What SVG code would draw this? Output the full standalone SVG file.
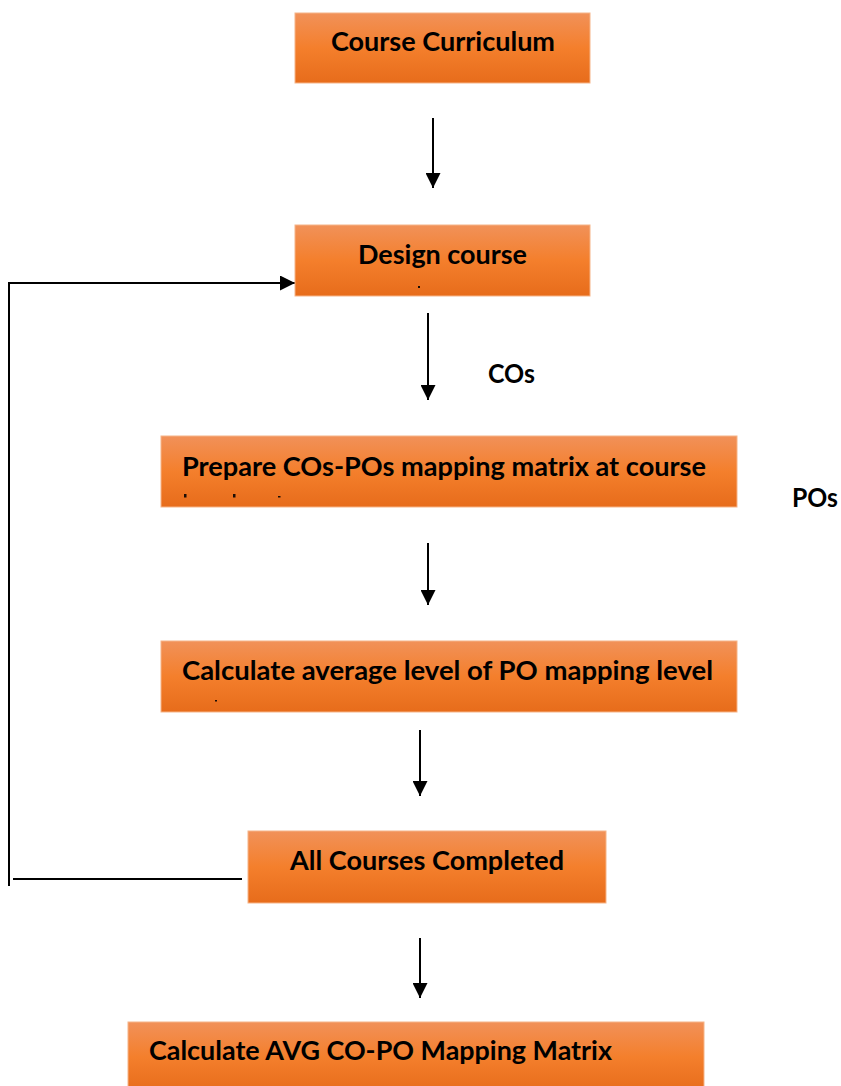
<svg xmlns="http://www.w3.org/2000/svg" width="841" height="1086" viewBox="0 0 841 1086">
<defs>
<linearGradient id="og" x1="0" y1="0" x2="0" y2="1">
<stop offset="0" stop-color="#f19159"/>
<stop offset="0.5" stop-color="#f47f2c"/>
<stop offset="1" stop-color="#e76c1b"/>
</linearGradient>
<marker id="ah" viewBox="0 0 10 10" refX="10" refY="5" markerWidth="7.5" markerHeight="7.5" markerUnits="strokeWidth" orient="auto">
<path d="M0,0 L10,5 L0,10 Z" fill="#000"/>
</marker>
<style>
.box{fill:url(#og);stroke:#f6b487;stroke-width:1}
.t{font-family:Lato,"Open Sans","Liberation Sans",sans-serif;font-weight:bold;font-size:26.5px;fill:#000}
.c{stroke:#000;stroke-width:2;fill:none}
.m{fill:#1a0d05}
</style>
</defs>
<rect width="841" height="1086" fill="#fff"/>
<g id="connectors">
<line class="c" x1="433" y1="118" x2="433" y2="188" marker-end="url(#ah)"/>
<line class="c" x1="428" y1="313" x2="428" y2="400" marker-end="url(#ah)"/>
<line class="c" x1="428" y1="543" x2="428" y2="605" marker-end="url(#ah)"/>
<line class="c" x1="420" y1="730" x2="420" y2="796" marker-end="url(#ah)"/>
<line class="c" x1="420" y1="938" x2="420" y2="998" marker-end="url(#ah)"/>
<line class="c" x1="13" y1="879" x2="242" y2="879"/>
<polyline class="c" points="9,886 9,283 295,283" marker-end="url(#ah)"/>
</g>
<g id="label-cos"><text class="t" x="488" y="383" textLength="47" lengthAdjust="spacingAndGlyphs">COs</text></g>
<g id="label-pos"><text class="t" x="792" y="507" textLength="46" lengthAdjust="spacingAndGlyphs">POs</text></g>
<g id="node-curriculum">
<rect class="box" x="295" y="13" width="295" height="70"/>
<text class="t" x="331" y="51" textLength="224" lengthAdjust="spacingAndGlyphs">Course Curriculum</text>
</g>
<g id="node-design">
<rect class="box" x="295" y="225" width="295" height="71"/>
<text class="t" x="358" y="264" textLength="169" lengthAdjust="spacingAndGlyphs">Design course</text>
<rect class="m" x="418" y="286" width="2" height="2"/>
</g>
<g id="node-prepare">
<rect class="box" x="161" y="436" width="576" height="71"/>
<text class="t" x="182" y="476" textLength="524" lengthAdjust="spacingAndGlyphs">Prepare COs-POs mapping matrix at course</text>
<rect class="m" x="184" y="494" width="2.5" height="3.5"/>
<rect class="m" x="233" y="494" width="2.5" height="3.5"/>
<rect class="m" x="278" y="496" width="2.5" height="1.5"/>
</g>
<g id="node-average">
<rect class="box" x="161" y="641" width="576" height="71"/>
<text class="t" x="182" y="680" textLength="531" lengthAdjust="spacingAndGlyphs">Calculate average level of PO mapping level</text>
<rect class="m" x="215" y="700" width="2" height="1.5"/>
</g>
<g id="node-completed">
<rect class="box" x="248" y="831" width="358" height="72"/>
<text class="t" x="290" y="870" textLength="274" lengthAdjust="spacingAndGlyphs">All Courses Completed</text>
</g>
<g id="node-avg-matrix">
<rect class="box" x="128" y="1022" width="576" height="70"/>
<text class="t" x="149" y="1060" textLength="463" lengthAdjust="spacingAndGlyphs">Calculate AVG CO-PO Mapping Matrix</text>
</g>
</svg>
